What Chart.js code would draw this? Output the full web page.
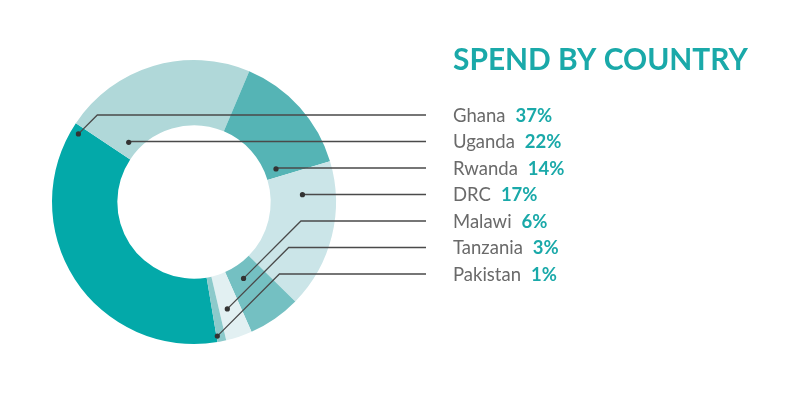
<!DOCTYPE html>
<html>
<head>
<meta charset="utf-8">
<script src="https://cdn.jsdelivr.net/npm/chart.js@4"></script>
<style>
  html, body { margin: 0; padding: 0; background: #fff; }
  #wrap { width: 800px; height: 395px; position: relative; }
</style>
</head>
<body>
<div id="wrap"><canvas id="spendChart"></canvas></div>
<script>
var title = 'SPEND BY COUNTRY';
var countries = ['Ghana', 'Uganda', 'Rwanda', 'DRC', 'Malawi', 'Tanzania', 'Pakistan'];
var shares = [37, 22, 14, 17, 6, 3, 1];
var sliceColors = ['#03a9a9', '#b0d8d9', '#55b4b5', '#cbe5e8', '#74c0c2', '#e2f0f2', '#8ccacb'];

// where each leader dot sits inside its slice (fraction of angle, fraction of ring depth)
var dotAngle = [0.976, 0.11, 0.895, 0.21, 0.58, 0.61, 0.9];
var dotDepth = [0.88, 0.18, 0.18, 0.49, 0.22, 0.54, 0.91];

var teal = '#1aa9a9';

var leaderPlugin = {
  id: 'leaders',
  afterDraw: function (chart) {
    var ctx = chart.ctx;
    var arcs = chart.getDatasetMeta(0).data;
    var labelX = 453, lineEndX = 426, firstRow = 115, rowGap = 26.5;

    ctx.save();
    // title
    ctx.fillStyle = teal;
    ctx.textBaseline = 'alphabetic';
    ctx.textAlign = 'left';
    var size = 28;
    ctx.font = 'bold ' + size + 'px Lato';
    size = size * 295 / ctx.measureText(title).width;
    ctx.font = 'bold ' + size + 'px Lato';
    ctx.fillText(title, labelX, 70);

    arcs.forEach(function (arc, i) {
      var p = arc.getProps(['x', 'y', 'startAngle', 'endAngle', 'innerRadius', 'outerRadius']);
      var a = p.startAngle + dotAngle[i] * (p.endAngle - p.startAngle);
      var r = p.innerRadius + dotDepth[i] * (p.outerRadius - p.innerRadius);
      var dx = p.x + Math.cos(a) * r;
      var dy = p.y + Math.sin(a) * r;
      var rowY = firstRow + i * rowGap;
      var elbowX = dx + Math.abs(dy - rowY);

      ctx.strokeStyle = '#4a4a4a';
      ctx.lineWidth = 1.3;
      ctx.beginPath();
      ctx.moveTo(dx, dy);
      ctx.lineTo(elbowX, rowY);
      ctx.lineTo(lineEndX, rowY);
      ctx.stroke();

      ctx.fillStyle = '#333';
      ctx.beginPath();
      ctx.arc(dx, dy, 2.6, 0, Math.PI * 2);
      ctx.fill();

      ctx.textBaseline = 'middle';
      ctx.font = '18.5px Lato';
      ctx.fillStyle = '#6a6a6a';
      ctx.fillText(countries[i], labelX, rowY + 1);
      var w = ctx.measureText(countries[i]).width;
      ctx.font = 'bold 18.5px Lato';
      ctx.fillStyle = teal;
      ctx.fillText(shares[i] + '%', labelX + w + 10, rowY + 1);
    });
    ctx.restore();
  }
};

var ctx = document.getElementById('spendChart').getContext('2d');
var spendChart = new Chart(ctx, {
  type: 'doughnut',
  data: {
    labels: countries,
    datasets: [{
      data: shares,
      backgroundColor: sliceColors,
      borderWidth: 0
    }]
  },
  options: {
    responsive: true,
    maintainAspectRatio: false,
    animation: false,
    cutout: '54%',
    rotation: 170.5,
    layout: {
      padding: { left: 52, right: 464, top: 60, bottom: 51 }
    },
    plugins: {
      legend: { display: false },
      tooltip: { enabled: false }
    }
  },
  plugins: [leaderPlugin]
});
</script>
</body>
</html>
